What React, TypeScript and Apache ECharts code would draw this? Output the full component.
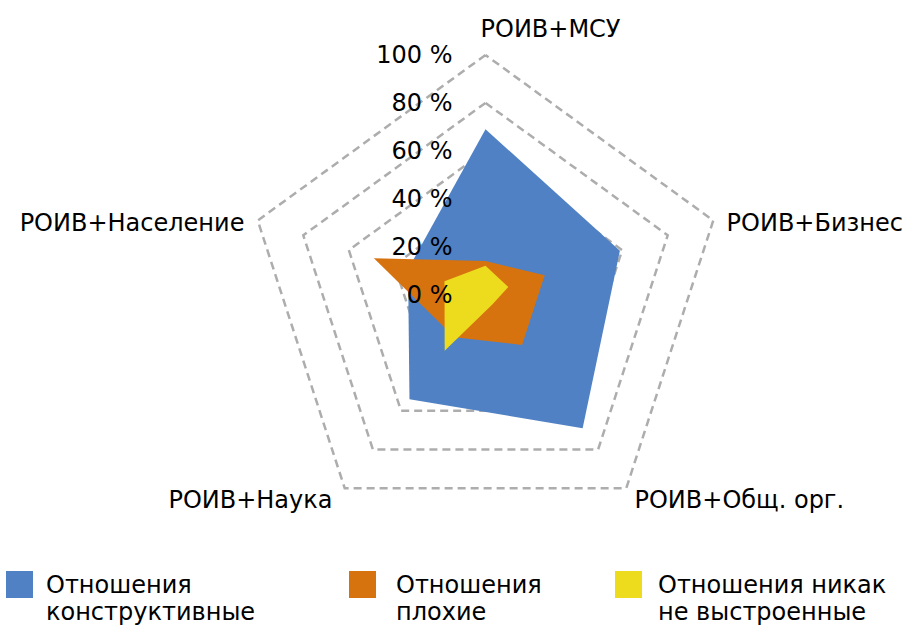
import React, { useEffect, useRef } from "react";
import * as echarts from "echarts";

// Indicators listed counter-clockwise from the top (ECharts radar order)
const categories = [
  "РОИВ+МСУ",
  "РОИВ+Население",
  "РОИВ+Наука",
  "РОИВ+Общ. орг.",
  "РОИВ+Бизнес",
];
const seriesNames = [
  "Отношения\nконструктивные",
  "Отношения\nплохие",
  "Отношения никак\nне выстроенные",
];
const constructive = [69, 34, 54, 69, 59];
const bad = [14, 49, 22, 26, 26];
const none = [12, 18, 29, 5, 10];
const colors = ["#4F81C4", "#D7730F", "#ECDC1D"];
const tickLabels = ["0 %", "20 %", "40 %", "60 %", "80 %", "100 %"];

const FONT = "DejaVu Sans";

const nameStyles: any[] = [
  { padding: [0, 0, 0, 130] },
  { lineHeight: 14 },
  { padding: [0, 4, 0, 0] },
  {},
  { lineHeight: 14 },
];
const shiftedNames = [categories[1], categories[4]];

export default function App() {
  const ref = useRef<HTMLDivElement>(null);
  useEffect(() => {
    if (!ref.current) return;
    const chart = echarts.init(ref.current, undefined, { renderer: "svg" });
    const values = [constructive, bad, none];
    const legendLefts = [6, 349, 615];
    const legendTextGaps = [8, 15, 11];
    const common = {
      center: [485.5, 294.5],
      radius: 239.5,
      startAngle: 90,
      splitNumber: 5,
      shape: "polygon",
    };
    chart.setOption({
      animation: false,
      backgroundColor: "#fff",
      radar: [
        {
          ...common,
          z: 0,
          nameGap: 14,
          axisName: {
            color: "#000",
            fontSize: 24,
            fontFamily: FONT,
            formatter: (name: string) =>
              shiftedNames.includes(name) ? "\n" + name : name,
          },
          indicator: categories.map((c, i) => ({
            name: c,
            min: 0,
            max: 100,
            nameTextStyle: nameStyles[i],
          })),
          splitLine: {
            lineStyle: { color: "#ADADAD", type: [8, 5], width: 2.5 },
          },
          splitArea: { show: false },
          axisLine: { show: false },
          axisTick: { show: false },
          axisLabel: { show: false },
        },
        {
          ...common,
          z: 10,
          axisName: { show: false },
          indicator: categories.map((c, i) => {
            const ind: any = { name: c, min: 0, max: 100 };
            if (i === 0) {
              ind.axisLabel = {
                show: true,
                color: "#000",
                fontSize: 24,
                fontFamily: FONT,
                margin: 33,
                formatter: (v: number) =>
                  tickLabels[Math.round(v / 20)] ?? "",
              };
            }
            return ind;
          }),
          splitLine: { show: false },
          splitArea: { show: false },
          axisLine: { show: false },
          axisTick: { show: false },
          axisLabel: { show: false },
        },
      ],
      legend: seriesNames.map((n, i) => ({
        data: [n],
        left: legendLefts[i],
        top: 571,
        icon: "path://M0,0L27,0L27,27L0,27Z M0,54L0,54",
        itemWidth: 27,
        itemHeight: 54,
        padding: 0,
        selectedMode: false,
        itemStyle: { borderWidth: 0 },
        textStyle: {
          color: "#000",
          fontSize: 24,
          fontFamily: FONT,
          lineHeight: 27,
          padding: [0, 0, 0, legendTextGaps[i]],
        },
      })),
      series: [
        {
          type: "radar",
          radarIndex: 0,
          symbol: "none",
          silent: true,
          z: 2,
          data: seriesNames.map((n, i) => ({
            name: n,
            value: values[i],
            itemStyle: { color: colors[i] },
            lineStyle: { width: 0, color: colors[i] },
            areaStyle: { color: colors[i], opacity: 1 },
          })),
        },
      ],
    });
    return () => chart.dispose();
  }, []);
  return (
    <div
      ref={ref}
      style={{ position: "fixed", left: 0, top: 0, width: 912, height: 625 }}
    />
  );
}
